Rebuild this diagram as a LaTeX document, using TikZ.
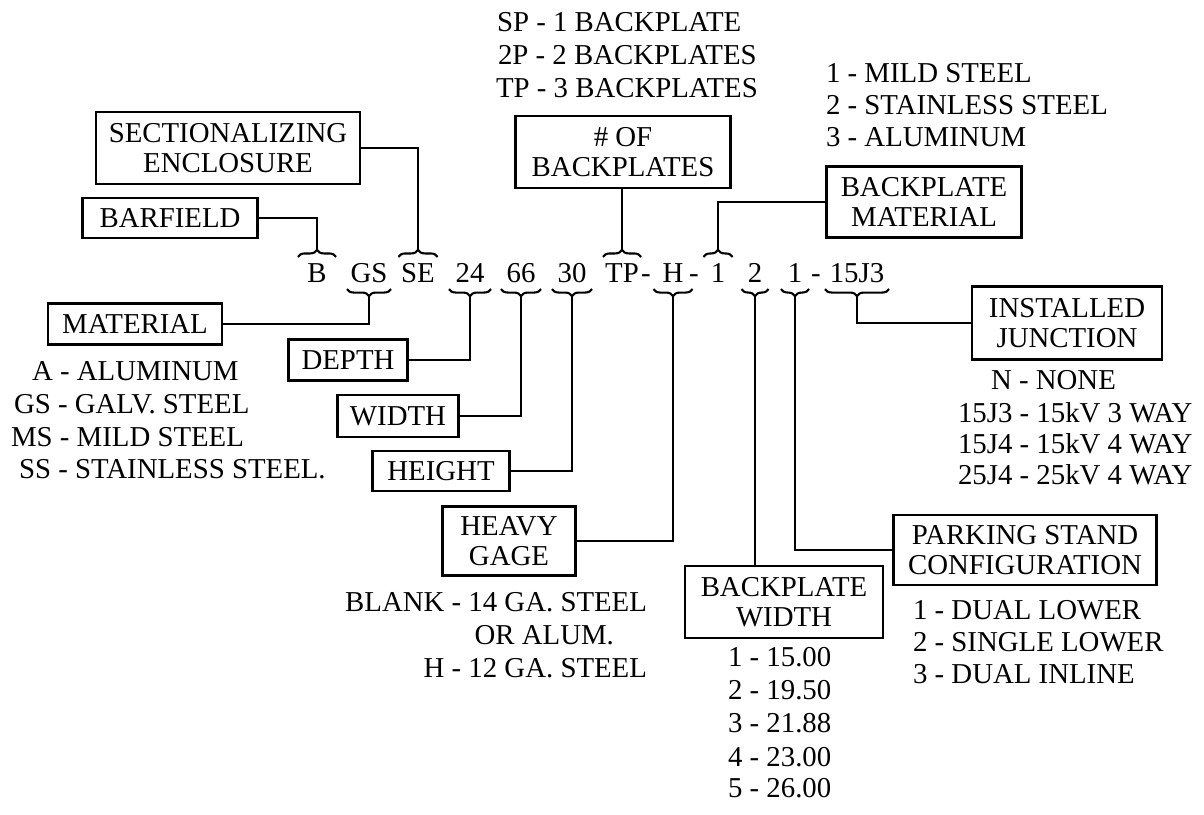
\documentclass[tikz,border=0pt]{standalone}
\usepackage{fontspec}
\setmainfont{Liberation Serif}
\usepackage{tikz}
\usetikzlibrary{decorations.pathreplacing}

\begin{document}
\begin{tikzpicture}[x=0.02cm, y=-0.02cm, line width=1.2pt,
    every node/.style={font=\fontsize{16.4}{17}\selectfont},
    box/.style={draw, align=center, inner sep=2pt},
    code/.style={inner sep=0pt, minimum height=0.6cm, text height=0.37cm, text depth=0pt},
    item/.style={anchor=base west, inner sep=0pt},
    ritem/.style={anchor=base east, inner sep=0pt},
    obrace/.style={decorate, decoration={brace, amplitude=0.14cm}},
    ubrace/.style={decorate, decoration={brace, mirror, amplitude=0.14cm}}]
    \useasboundingbox (0, 0) rectangle (1204, 815);

    % the part number
    \node(cB) [code, minimum width=0.72cm] at (317, 273) {B};
    \node(cGS) [code, minimum width=0.84cm] at (369, 273) {GS};
    \node(cSE) [code, minimum width=0.74cm] at (418, 273) {SE};
    \node(cD) [code, minimum width=0.8cm] at (470, 273) {24};
    \node(cW) [code, minimum width=0.76cm] at (521, 273) {66};
    \node(cHt) [code, minimum width=0.76cm] at (572, 273) {30};
    \node(cTP) [code, minimum width=0.72cm] at (622, 273) {TP};
    \node(d1) [code] at (646, 273) {-};
    \node(cH) [code, minimum width=0.74cm] at (673, 273) {H};
    \node(d2) [code] at (694, 273) {-};
    \node(cBM) [code, minimum width=0.54cm] at (718, 273) {1};
    \node(cBW) [code, minimum width=0.5cm] at (755, 273) {2};
    \node(cPS) [code, minimum width=0.52cm] at (795, 273) {1};
    \node(d3) [code] at (816, 273) {-};
    \node(cJ) [code, minimum width=1.24cm] at (857, 273) {15J3};

    \draw[obrace] (cB.north west) -- (cB.north east);
    \draw[ubrace] (cGS.south west) -- (cGS.south east);
    \draw[obrace] (cSE.north west) -- (cSE.north east);
    \draw[ubrace] (cD.south west) -- (cD.south east);
    \draw[ubrace] (cW.south west) -- (cW.south east);
    \draw[ubrace] (cHt.south west) -- (cHt.south east);
    \draw[obrace] (cTP.north west) -- (cTP.north east);
    \draw[ubrace] (cH.south west) -- (cH.south east);
    \draw[obrace] (cBM.north west) -- (cBM.north east);
    \draw[ubrace] (cBW.south west) -- (cBW.south east);
    \draw[ubrace] (cPS.south west) -- (cPS.south east);
    \draw[ubrace] (cJ.south west) -- (cJ.south east);

    \coordinate (tB) at ([yshift=0.14cm]cB.north);
    \coordinate (tGS) at ([yshift=-0.14cm]cGS.south);
    \coordinate (tSE) at ([yshift=0.14cm]cSE.north);
    \coordinate (tD) at ([yshift=-0.14cm]cD.south);
    \coordinate (tW) at ([yshift=-0.14cm]cW.south);
    \coordinate (tHt) at ([yshift=-0.14cm]cHt.south);
    \coordinate (tTP) at ([yshift=0.14cm]cTP.north);
    \coordinate (tH) at ([yshift=-0.14cm]cH.south);
    \coordinate (tBM) at ([yshift=0.14cm]cBM.north);
    \coordinate (tBW) at ([yshift=-0.14cm]cBW.south);
    \coordinate (tPS) at ([yshift=-0.14cm]cPS.south);
    \coordinate (tJ) at ([yshift=-0.14cm]cJ.south);

    % the boxes
    \node(sect) [box, minimum width=5.28cm, minimum height=1.44cm] at (228, 148) {SECTIONALIZING\\ENCLOSURE};
    \node(barf) [box, minimum width=3.5cm, minimum height=0.8cm] at (170, 218) {BARFIELD};
    \node(nbp) [box, minimum width=4.3cm, minimum height=1.44cm] at (623, 152) {\# OF\\BACKPLATES};
    \node(bpm) [box, minimum width=3.9cm, minimum height=1.42cm] at (924, 202) {BACKPLATE\\MATERIAL};
    \node(mat) [box, minimum width=3.48cm, minimum height=0.82cm] at (135, 324) {MATERIAL};
    \node(dep) [box, minimum width=2.38cm, minimum height=0.82cm] at (348, 360) {DEPTH};
    \node(wid) [box, minimum width=2.42cm, minimum height=0.84cm] at (398, 416) {WIDTH};
    \node(hgt) [box, minimum width=2.74cm, minimum height=0.8cm] at (441, 471) {HEIGHT};
    \node(hvy) [box, minimum width=2.66cm, minimum height=1.38cm] at (509, 541) {HEAVY\\GAGE};
    \node(bpw) [box, minimum width=3.96cm, minimum height=1.44cm] at (784, 602) {BACKPLATE\\WIDTH};
    \node(park) [box, minimum width=5.26cm, minimum height=1.4cm] at (1025, 550) {PARKING STAND\\CONFIGURATION};
    \node(junc) [box, minimum width=3.8cm, minimum height=1.46cm] at (1067, 323) {INSTALLED\\JUNCTION};

    % leaders
    \draw (tB) |- (barf.east);
    \draw (tSE) |- (sect.east);
    \draw (tTP) -- (tTP |- nbp.south);
    \draw (tBM) |- (bpm.west);
    \draw (tGS) |- (mat.east);
    \draw (tD) |- (dep.east);
    \draw (tW) |- (wid.east);
    \draw (tHt) |- (hgt.east);
    \draw (tH) |- (hvy.east);
    \draw (tBW) -- (tBW |- bpw.north);
    \draw (tPS) |- (park.west);
    \draw (tJ) |- (junc.west);

    % option lists
    \node(np1) [item] at (496, 31) {SP - 1 BACKPLATE};
    \node(np2) [item] at (497, 64) {2P - 2 BACKPLATES};
    \node(np3) [item] at (495, 97) {TP - 3 BACKPLATES};

    \node(bm1) [item] at (825, 82) {1 - MILD STEEL};
    \node(bm2) [item] at (825, 114) {2 - STAINLESS STEEL};
    \node(bm3) [item] at (825, 146) {3 - ALUMINUM};

    \node(m1) [item] at (31, 380) {A - ALUMINUM};
    \node(m2) [item] at (13, 413) {GS - GALV. STEEL};
    \node(m3) [item] at (10, 446) {MS - MILD STEEL};
    \node(m4) [item] at (18, 478) {SS - STAINLESS STEEL.};

    \node(hv1) [ritem] at (648, 611) {BLANK - 14 GA. STEEL};
    \node(hv2) [ritem] at (615, 644) {OR ALUM.};
    \node(hv3) [ritem] at (648, 677) {H - 12 GA. STEEL};

    \node(bw1) [item] at (727, 666) {1 - 15.00};
    \node(bw2) [item] at (727, 699) {2 - 19.50};
    \node(bw3) [item] at (727, 732) {3 - 21.88};
    \node(bw4) [item] at (727, 766) {4 - 23.00};
    \node(bw5) [item] at (727, 797) {5 - 26.00};

    \node(j1) [item] at (990, 389) {N - NONE};
    \node(j2) [item] at (957, 422) {15J3 - 15kV 3 WAY};
    \node(j3) [item] at (957, 453) {15J4 - 15kV 4 WAY};
    \node(j4) [item] at (957, 484) {25J4 - 25kV 4 WAY};

    \node(p1) [item] at (912, 619) {1 - DUAL LOWER};
    \node(p2) [item] at (912, 651) {2 - SINGLE LOWER};
    \node(p3) [item] at (912, 683) {3 - DUAL INLINE};
  \end{tikzpicture}
\end{document}
